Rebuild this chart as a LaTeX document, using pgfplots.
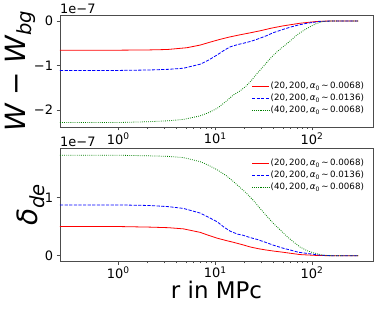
\documentclass[border=0pt]{standalone}
\usepackage{fontspec}
\setmainfont{DejaVu Sans}
\usepackage{pgfplots}
\pgfplotsset{compat=1.18}
\definecolor{mplgreen}{RGB}{0,128,0}
\pgfplotsset{
  every axis/.append style={
    scale only axis,
    clip=false,
    width=313bp,
    xmin=0.25, xmax=425,
    xtick={1,10,100},
    xticklabels={10\textsuperscript{0},10\textsuperscript{1},10\textsuperscript{2}},
    tick align=outside,
    tick pos=left,
    major tick length=3.5bp,
    minor tick length=2bp,
    axis line style={black!70, line width=0.6bp},
    every tick/.style={black!70, line width=0.5bp},
    tick label style={font=\fontsize{13}{15}\selectfont},
    xticklabel style={yshift=1bp},
    legend cell align=left,
    legend style={draw=none, fill=none, font=\fontsize{8.7}{10}\selectfont,
      nodes={inner sep=1.2bp}, row sep=1.5bp},
  },
  every axis plot/.append style={line width=0.8bp},
}
\newcommand{\leg}[2]{(#1,\,200,\,{\itshape α}\textsubscript{0}\,∼\,#2)}
\begin{document}
\begin{tikzpicture}
\path[use as bounding box] (0bp,0bp) rectangle (379bp,309bp);
\begin{semilogxaxis}[at={(60bp,182bp)}, anchor=south west, height=112bp,
  ymin=-2.38, ymax=0.135,
  ytick={-2,-1,0}, yticklabels={−2,−1,0},
  ylabel={{\itshape W} − {\itshape W}\textsubscript{\itshape bg}},
  ylabel style={font=\fontsize{28}{30}\selectfont, at={(axis description cs:-0.1118,0.5)}, anchor=base},
  legend style={at={(0.985,0.085)}, anchor=south east},
]
\addplot[color=red, solid] coordinates {
(0.25,-0.655) (0.5,-0.655) (1,-0.655) (2,-0.65) (3.2,-0.64) (5.1,-0.60) (7,-0.54) (9,-0.47)
(11.3,-0.41) (14,-0.36) (18,-0.31) (23,-0.265) (29,-0.22) (38,-0.16) (50,-0.11) (75,-0.05)
(112,-0.01) (150,0) (300,0)};
\addlegendentry{\leg{20}{0.0068}}
\addplot[color=blue, dash pattern=on 3.2bp off 1.4bp] coordinates {
(0.25,-1.11) (1,-1.11) (2.1,-1.10) (3.3,-1.085) (4.7,-1.06) (7,-0.97) (8.5,-0.88) (10.5,-0.76)
(12.3,-0.66) (14.3,-0.58) (17,-0.53) (19.5,-0.50) (23,-0.46) (27,-0.41) (33,-0.34) (40,-0.26)
(50,-0.19) (59,-0.14) (72,-0.09) (89,-0.05) (120,-0.01) (160,0) (300,0)};
\addlegendentry{\leg{20}{0.0136}}
\addplot[color=mplgreen, dash pattern=on 0.8bp off 1.3bp] coordinates {
(0.25,-2.28) (1,-2.28) (2.1,-2.26) (3.3,-2.24) (4.7,-2.21) (7,-2.13) (8.5,-2.06) (10.5,-1.96)
(13,-1.80) (15.4,-1.66) (18,-1.57) (20.4,-1.48) (23.5,-1.34) (27,-1.18) (32,-1.00) (37,-0.84)
(43,-0.70) (50,-0.58) (60,-0.44) (70,-0.31) (82,-0.21) (95,-0.13) (110,-0.06) (130,-0.01)
(160,0) (300,0)};
\addlegendentry{\leg{40}{0.0068}}
\node[anchor=south west, inner sep=0pt, yshift=1bp, font=\fontsize{13}{15}\selectfont] at (rel axis cs:0,1) {1e−7};
\end{semilogxaxis}
\begin{semilogxaxis}[at={(60bp,48bp)}, anchor=south west, height=113bp,
  ymin=-0.09, ymax=1.844,
  ytick={0,1}, yticklabels={0,1},
  ylabel={{\itshape δ}\textsubscript{\itshape de}},
  ylabel style={font=\fontsize{28}{30}\selectfont, at={(axis description cs:-0.0703,0.5)}, anchor=base},
  xlabel={r in MPc},
  xlabel style={font=\fontsize{23}{25}\selectfont, yshift=4bp},
  legend style={at={(0.985,0.93)}, anchor=north east},
]
\addplot[color=red, solid, forget plot] coordinates {
(0.25,0.50) (1,0.50) (2.1,0.49) (3.3,0.48) (4.7,0.46) (7,0.40) (8.5,0.35) (10.5,0.30)
(13,0.26) (15.4,0.23) (19,0.19) (23,0.15) (28,0.12) (33,0.10) (40,0.08) (50,0.06) (75,0.02)
(112,0.005) (160,0) (300,0)};
\addplot[color=blue, dash pattern=on 3.2bp off 1.4bp, forget plot] coordinates {
(0.25,0.87) (1,0.87) (2.1,0.86) (3.3,0.84) (4.7,0.81) (7,0.73) (8.5,0.66) (10.5,0.58)
(12.3,0.49) (14.3,0.42) (17,0.37) (19.5,0.35) (23,0.31) (27,0.28) (33,0.23) (40,0.18)
(50,0.13) (59,0.10) (72,0.06) (89,0.04) (120,0.01) (160,0) (300,0)};
\addplot[color=mplgreen, dash pattern=on 0.8bp off 1.3bp, forget plot] coordinates {
(0.25,1.72) (1,1.72) (2.1,1.71) (3.3,1.70) (4.7,1.68) (7,1.61) (8.5,1.55) (10.5,1.47)
(13,1.37) (15.4,1.27) (18,1.17) (21,1.07) (25,0.94) (29,0.81) (34,0.68) (40,0.55) (47,0.44)
(55,0.33) (65,0.23) (75,0.15) (88,0.09) (103,0.05) (130,0.01) (160,0) (300,0)};
\addlegendimage{draw=red, solid, line width=0.8bp}
\addlegendentry{\leg{20}{0.0068}}
\addlegendimage{draw=blue, dash pattern=on 3.2bp off 1.4bp, line width=0.8bp}
\addlegendentry{\leg{20}{0.0136}}
\addlegendimage{draw=mplgreen, dash pattern=on 0.8bp off 1.3bp, line width=0.8bp}
\addlegendentry{\leg{40}{0.0068}}
\node[anchor=south west, inner sep=0pt, yshift=1bp, font=\fontsize{13}{15}\selectfont] at (rel axis cs:0,1) {1e−7};
\end{semilogxaxis}
\end{tikzpicture}
\end{document}
